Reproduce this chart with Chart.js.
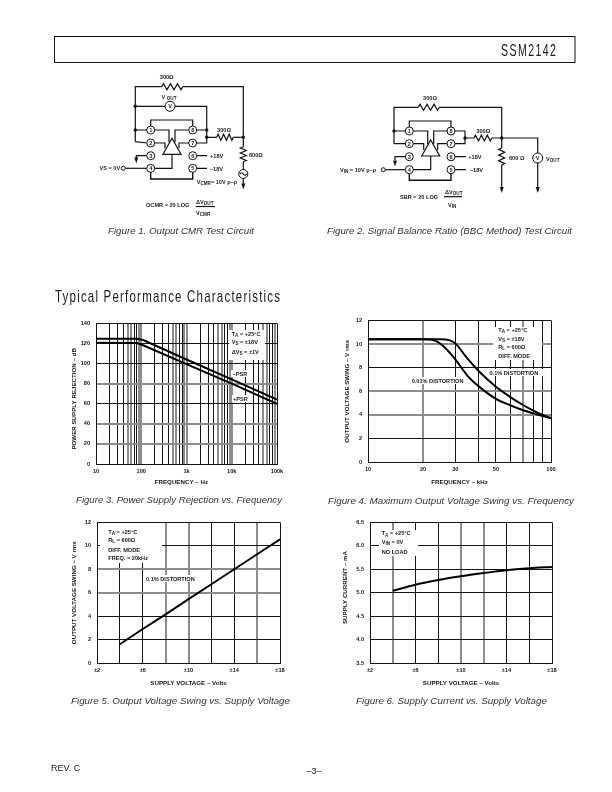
<!DOCTYPE html>
<html>
<head>
<meta charset="utf-8">
<title>SSM2142</title>
<script src="https://cdn.jsdelivr.net/npm/chart.js@4"></script>
<style>
  html, body { margin: 0; padding: 0; background: #fff; }
  body { width: 612px; height: 792px; position: relative; overflow: hidden; }
  canvas { position: absolute; }
  #page { position: absolute; left: 0; top: 0; }
  #page text { font-family: "Liberation Sans", Arial, sans-serif; fill: #1a1a1a; }
  #page .small { font-size: 5.6px; font-weight: bold; }
  #page .cap { font-size: 9px; font-style: italic; fill: #333; }
  #page .wire { fill: none; stroke: #111; stroke-width: 1.2; }
</style>
</head>
<body>
<canvas id="chartPsr"></canvas>
<canvas id="chartSwingFreq"></canvas>
<canvas id="chartSwingSupply"></canvas>
<canvas id="chartCurrent"></canvas>
<svg id="page" width="612" height="792" viewBox="0 0 612 792"></svg>

<script>
// Figure 3 - power supply rejection
const psrFreq = [10, 80, 110, 1000, 10000, 100000];
const psrMinus = [124.8, 124.6, 123.4, 104, 84.3, 64];
const psrPlus = [120.6, 120.4, 118.2, 99.5, 80, 60];
const psrTicks = [10, 100, 1000, 10000, 100000];
const psrTickLabels = ['10', '100', '1k', '10k', '100k'];
const psrGrid = [10, 20, 30, 40, 50, 60, 70, 80, 90,
  100, 200, 300, 400, 500, 600, 700, 800, 900,
  1000, 2000, 3000, 4000, 5000, 6000, 7000, 8000, 9000,
  10000, 20000, 30000, 40000, 50000, 60000, 70000, 80000, 90000, 100000];

// Figure 4 - max output swing vs frequency
const swingFreq = [10, 20, 22, 25, 28, 30, 35, 40, 50, 60, 70, 80, 90, 100];
const swing001 = [10.4, 10.4, 10.38, 10.0, 9.25, 8.7, 7.3, 6.45, 5.35, 4.8, 4.4, 4.12, 3.9, 3.72];
const swing01 = [10.4, 10.4, 10.4, 10.4, 10.3, 10.05, 8.75, 7.75, 6.37, 5.5, 4.85, 4.35, 3.98, 3.7];
const swingFreqTicks = [10, 20, 30, 50, 100];
const swingFreqGrid = [10, 20, 30, 40, 50, 60, 70, 80, 90, 100];

// Figure 5 - output swing vs supply
const supplyVolts = [4, 6, 8, 10, 12, 14, 16, 18];
const swingSupply = [1.6, 2.9, 4.15, 5.45, 6.72, 8.0, 9.28, 10.55];

// Figure 6 - supply current vs supply
const supplyCurrent = [5.04, 5.17, 5.27, 5.35, 5.42, 5.48, 5.52, 5.55];

const supplyTicks = [2, 6, 10, 14, 18];
const supplyTickLabels = ['±2', '±6', '±10', '±14', '±18'];

// which grid lines came out gray in the scan
const psrGrayX = [5, 6, 9, 1];
const psrGrayY = [80, 40, 20];
const swingFreqGrayX = [20, 70];
const swingFreqGrayY = [10, 6, 4];
const swingSupplyGrayX = [8, 10, 16];
const swingSupplyGrayY = [8, 6];
const currentGrayX = [4, 10, 12];
const currentGrayY = [];

const FONT = 'Liberation Sans';
const DARK = '#151515';
const GRAY = '#8c8c8c';

function mantissa(v) {
  return Math.round(v / Math.pow(10, Math.floor(Math.log10(v) + 1e-9)));
}

function makeChart(id, plot, titleX, titleY, datasets, xScale, yScale, xGray, yGray, xTitle, yTitle) {
  const cv = document.getElementById(id);
  const left = titleX - 4, top = plot.t - 6;
  const w = plot.r + 14 - left, h = titleY + 5 - top;
  cv.width = w; cv.height = h;
  cv.style.left = left + 'px'; cv.style.top = top + 'px';
  cv.style.width = w + 'px'; cv.style.height = h + 'px';

  const gridOf = (gray, ends) => ({
    drawTicks: false,
    color: c => ends.includes(c.tick.value) ? DARK : (gray(c.tick.value) ? GRAY : DARK),
    lineWidth: c => ends.includes(c.tick.value) ? 1 : (gray(c.tick.value) ? 2 : 1)
  });
  const font = { family: FONT, size: 5.6, weight: 'bold' };
  const titleFont = { family: FONT, size: 6.2, weight: 'bold' };

  new Chart(cv, {
    type: 'line',
    data: { datasets: datasets.map(d => ({
      data: d.x.map((v, i) => ({ x: v, y: d.y[i] })),
      borderColor: '#000',
      borderWidth: 2,
      pointRadius: 0,
      cubicInterpolationMode: d.smooth ? 'monotone' : 'default',
      tension: 0
    })) },
    options: {
      responsive: false,
      animation: false,
      devicePixelRatio: 1,
      layout: { padding: { top: 6, right: 14, left: 0, bottom: 0 } },
      plugins: { legend: { display: false }, tooltip: { enabled: false } },
      scales: {
        x: Object.assign({
          grid: gridOf(xGray, [xScale.min, xScale.max]),
          border: { color: DARK },
          title: { display: true, text: xTitle, color: DARK, font: titleFont, padding: 0 },
          afterFit: s => { s.height = h - 6 - (plot.b - plot.t); }
        }, xScale, {
          ticks: Object.assign({ color: DARK, font, padding: 4, autoSkip: false, maxRotation: 0, minRotation: 0 }, xScale.ticks)
        }),
        y: {
          min: yScale.min, max: yScale.max,
          grid: gridOf(yGray, [yScale.min, yScale.max]),
          border: { color: DARK },
          title: { display: true, text: yTitle, color: DARK, font: titleFont, padding: 0 },
          afterFit: s => { s.width = plot.l - left; },
          ticks: { color: DARK, font, padding: 6, stepSize: yScale.step, callback: yScale.fmt }
        }
      }
    }
  });
}

const supplyX = {
  type: 'linear', min: 2, max: 18,
  ticks: { stepSize: 2, callback: v => { const i = supplyTicks.indexOf(v); return i < 0 ? '' : supplyTickLabels[i]; } }
};

// nbsp padding nudges a few titles off the plot centre, as in the scan
const nudge = '\u00a0\u00a0\u00a0\u00a0\u00a0\u00a0';

makeChart('chartPsr', { l: 96, t: 320, r: 277, b: 464 }, 75, 481,
  [{ x: psrFreq, y: psrMinus }, { x: psrFreq, y: psrPlus }],
  { type: 'logarithmic', min: 10, max: 100000,
    afterBuildTicks: s => { s.ticks = psrGrid.map(v => ({ value: v })); },
    ticks: { callback: v => { const i = psrTicks.indexOf(v); return i < 0 ? '' : psrTickLabels[i]; } } },
  { min: 0, max: 140, step: 20, fmt: v => v },
  v => psrGrayX.includes(mantissa(v)), v => psrGrayY.includes(v),
  'FREQUENCY – Hz' + nudge, 'POWER SUPPLY REJECTION – dB' + nudge);

makeChart('chartSwingFreq', { l: 368, t: 317, r: 551, b: 462 }, 348, 481,
  [{ x: swingFreq, y: swing001, smooth: true }, { x: swingFreq, y: swing01, smooth: true }],
  { type: 'logarithmic', min: 10, max: 100,
    afterBuildTicks: s => { s.ticks = swingFreqGrid.map(v => ({ value: v })); },
    ticks: { callback: v => swingFreqTicks.includes(v) ? String(v) : '' } },
  { min: 0, max: 12, step: 2, fmt: v => v },
  v => swingFreqGrayX.includes(v), v => swingFreqGrayY.includes(v),
  'FREQUENCY – kHz', 'OUTPUT VOLTAGE SWING – V rms');

makeChart('chartSwingSupply', { l: 97, t: 519, r: 280, b: 663 }, 75, 682,
  [{ x: supplyVolts, y: swingSupply }],
  supplyX,
  { min: 0, max: 12, step: 2, fmt: v => v },
  v => swingSupplyGrayX.includes(v), v => swingSupplyGrayY.includes(v),
  'SUPPLY VOLTAGE – Volts', 'OUTPUT VOLTAGE SWING – V rms');

makeChart('chartCurrent', { l: 370, t: 519, r: 552, b: 663 }, 346, 682,
  [{ x: supplyVolts, y: supplyCurrent, smooth: true }],
  supplyX,
  { min: 3.5, max: 6.5, step: 0.5, fmt: v => v.toFixed(1) },
  v => currentGrayX.includes(v), v => currentGrayY.includes(v),
  'SUPPLY VOLTAGE – Volts', nudge + 'SUPPLY CURRENT – mA');

// everything that is not a chart: page furniture, notes on the plots, test circuits
let svg = '';

function esc(s) { return s.replace(/&/g, '&amp;').replace(/</g, '&lt;'); }
function subs(s) {
  return esc(s).replace(/\{([^}]+)\}/g, '<tspan dy="1.4" font-size="4.6">$1</tspan><tspan dy="-1.4">\u200b</tspan>');
}
function small(x, y, s, anchor) {
  svg += `<text class="small" x="${x}" y="${y}"${anchor ? ` text-anchor="${anchor}"` : ''}>${subs(s)}</text>`;
}
function fitted(x, y, len, s, cls) {
  svg += `<text class="${cls || ''}" x="${x}" y="${y}" textLength="${len}" lengthAdjust="spacingAndGlyphs">${esc(s)}</text>`;
}
// no narrow face installed, so squeeze the regular one and open the spacing up
function condensed(x, y, len, s, size, squeeze) {
  svg += `<text transform="translate(${x} ${y}) scale(${squeeze} 1)" font-size="${size}" textLength="${len / squeeze}" lengthAdjust="spacing">${esc(s)}</text>`;
}
function white(x, y, w, h) { svg += `<rect x="${x}" y="${y}" width="${w}" height="${h}" fill="#fff"/>`; }
function wire(d, sw) { svg += `<path class="wire" d="${d}"${sw ? ` style="stroke-width:${sw}"` : ''}/>`; }
function dot(x, y) { svg += `<circle cx="${x}" cy="${y}" r="1.7" fill="#111"/>`; }
function ring(x, y, r) { svg += `<circle cx="${x}" cy="${y}" r="${r}" fill="#fff" stroke="#111" stroke-width="1"/>`; }
function pin(x, y, n) {
  ring(x, y, 4);
  svg += `<text class="small" x="${x}" y="${y + 2}" text-anchor="middle">${n}</text>`;
}
function arrow(x, y) { svg += `<path d="M${x - 2} ${y - 6}L${x + 2} ${y - 6}L${x} ${y}Z" fill="#111"/>`; }
function resH(x1, x2, y) {
  const step = (x2 - x1) / 6;
  let d = `M${x1} ${y}`;
  for (let i = 0; i < 6; i++) d += `L${x1 + step * (i + 0.5)} ${y + (i % 2 ? 3 : -3)}`;
  wire(d + `L${x2} ${y}`);
}
function resV(x, y1, y2) {
  const step = (y2 - y1) / 6;
  let d = `M${x} ${y1}`;
  for (let i = 0; i < 6; i++) d += `L${x + (i % 2 ? 3 : -3)} ${y1 + step * (i + 0.5)}`;
  wire(d + `L${x} ${y2}`);
}
function ampCore(lx, rx, apexX, apexY, baseY, halfBase, y1, y2, y3, y4, topY, botY) {
  wire(`M${lx} ${y1}V${topY}H${rx}V${y1}`);
  wire(`M${lx} ${y4}V${botY}H${rx}V${y4}`, 1.4);
  wire(`M${apexX - halfBase} ${baseY}L${apexX} ${apexY}L${apexX + halfBase} ${baseY}Z`);
  wire(`M${lx} ${y1}H${apexX - 3}V${apexY + 4}`);
  wire(`M${rx} ${y1}H${apexX + 3}V${apexY + 4}`);
  wire(`M${lx} ${y2}H${apexX - 7}V${apexY + 10}`);
  wire(`M${rx} ${y2}H${apexX + 7}V${apexY + 10}`);
  wire(`M${lx} ${y4}H${apexX}V${baseY}`);
  [[1, y1], [2, y2], [3, y3], [4, y4]].forEach(p => pin(lx, p[1], p[0]));
  [[8, y1], [7, y2], [6, y3], [5, y4]].forEach(p => pin(rx, p[1], p[0]));
}

// header
svg += '<rect x="54.5" y="36.5" width="520.5" height="26" fill="none" stroke="#111" stroke-width="1"/>';
condensed(501, 55.5, 55, 'SSM2142', 16, 0.66);
condensed(55, 302, 225, 'Typical Performance Characteristics', 16, 0.72);

// figure 1 circuit
wire('M135.3 141.7V86.7H161.7');
resH(161.7, 182.7, 86.7);
wire('M182.7 86.7H243.3V146.7');
wire('M135.3 106.3H206.7V143H192.7');
wire('M135.3 130H150.7M135.3 141.7L146.7 143');
wire('M192.7 130H206.7M206.7 137.3H216.7');
resH(216.7, 233.3, 137.3);
wire('M233.3 137.3H243.3');
resV(243.3, 146.7, 161.7);
wire('M243.3 161.7V184');
arrow(243.3, 189.5);
ring(170, 106.3, 5);
small(170, 108.3, 'V', 'middle');
ampCore(150.7, 192.7, 172, 138.3, 154.3, 9, 130, 143, 155.7, 168.3, 120, 179);
wire('M146.7 155.7H136.3V158');
arrow(136.3, 163.5);
wire('M146.7 168.3H125.3');
ring(123.3, 168.3, 2);
wire('M196.7 155.7H207M196.7 168.3H207');
ring(243.3, 174, 4.5);
wire('M240 174q1.6 -2.5 3.3 0t3.3 0');
dot(135.3, 106.3); dot(135.3, 130); dot(206.7, 130); dot(206.7, 137.3); dot(243.3, 137.3);
small(166.7, 79, '300Ω', 'middle');
small(169, 98.5, 'V {OUT}', 'middle');
small(224, 131.5, '300Ω', 'middle');
small(249, 157, '600Ω');
small(210, 158, '+18V');
small(210, 170.5, '–18V');
small(99.5, 170.3, 'VS = 0V');
small(196.7, 183.5, 'V{CMR}= 10V p–p');
small(146, 207, 'OCMR = 20 LOG');
small(196, 204, 'ΔV{OUT}');
small(196, 214.5, 'V{CMR}');
wire('M195.7 206.5H215');
fitted(108, 233.5, 146, 'Figure 1.  Output CMR Test Circuit', 'cap');

// figure 2 circuit
wire('M394 143.7V107.3H418.3');
resH(418.3, 439.3, 107.3);
wire('M439.3 107.3H501.7V148');
wire('M394 131H409.3M394 143.7H409.3');
wire('M451 131H465V143.7H451M465 138H474');
resH(474, 491.7, 138);
wire('M491.7 138H537.7V153M501.7 165V187M537.7 163V187');
resV(501.7, 148, 165);
arrow(501.7, 193); arrow(537.7, 193);
ring(537.7, 158, 5);
small(537.7, 160, 'V', 'middle');
ampCore(409.3, 451, 430.7, 140, 156, 9, 131, 143.7, 156.7, 169.7, 121, 180.3);
wire('M405.3 156.7H395V160');
arrow(395, 166.5);
wire('M405.3 169.7H385.3');
ring(383.3, 169.7, 2);
wire('M455 156.7H466M455 169.7H466');
dot(394, 131); dot(465, 138); dot(501.7, 138);
small(430, 100, '300Ω', 'middle');
small(483.3, 132.5, '300Ω', 'middle');
small(509, 160, '600 Ω');
small(546, 161, 'V{OUT}');
small(468.3, 158.5, '+18V');
small(470, 171.5, '–18V');
small(340, 171.5, 'V{IN} = 10V p–p');
small(400, 198.5, 'SBR = 20 LOG');
small(445, 194, 'ΔV{OUT}');
small(448, 206.5, 'V{IN}');
wire('M444 196.7H462');
fitted(327, 233.5, 245, 'Figure 2.  Signal Balance Ratio (BBC Method) Test Circuit', 'cap');

// notes on figure 3
white(229, 330, 36, 30);
small(231.7, 336, 'T{A} = +25°C');
small(231.7, 343.5, 'V{S} = ±18V');
small(231.7, 354, 'ΔV{S} = ±1V');
white(231, 370, 20, 7);
small(232.7, 376, '–PSR');
white(232, 395, 19, 7);
small(233, 400.5, '+PSR');
fitted(76, 503, 206, 'Figure 3.  Power Supply Rejection vs. Frequency', 'cap');

// notes on figure 4
white(493, 327, 49, 33);
small(498.3, 332, 'T{A} = +25°C');
small(498.3, 341, 'V{S} = ±18V');
small(498.3, 349, 'R{L} = 600Ω');
small(498.3, 357.5, 'DIFF. MODE');
white(488, 369, 56, 7);
small(489.5, 374.7, '0.1% DISTORTION');
white(410, 377, 58, 7);
small(411.7, 383, '0.01% DISTORTION');
fitted(328, 504, 246, 'Figure 4.  Maximum Output Voltage Swing vs. Frequency', 'cap');

// notes on figure 5
white(100, 523, 62, 40);
small(108.3, 534, 'T{A} = +25°C');
small(108.3, 542, 'R{L} = 600Ω');
small(108.3, 551.7, 'DIFF. MODE');
small(108.3, 560, 'FREQ. = 20kHz');
white(144, 575, 57, 7);
small(146, 581, '0.1% DISTORTION');
fitted(71, 704, 219, 'Figure 5.  Output Voltage Swing vs. Supply Voltage', 'cap');

// notes on figure 6
white(379, 530, 39, 26);
small(381.7, 535.3, 'T{A} = +25°C');
small(381.7, 543.7, 'V{IN} = 0V');
small(381.7, 554, 'NO LOAD');
fitted(356, 704, 191, 'Figure 6.  Supply Current vs. Supply Voltage', 'cap');

// footer
svg += '<text x="51" y="771" font-size="9">REV. C</text>';
svg += '<text x="314" y="774" font-size="9" text-anchor="middle">–3–</text>';

document.getElementById('page').innerHTML = svg;
</script>
</body>
</html>
